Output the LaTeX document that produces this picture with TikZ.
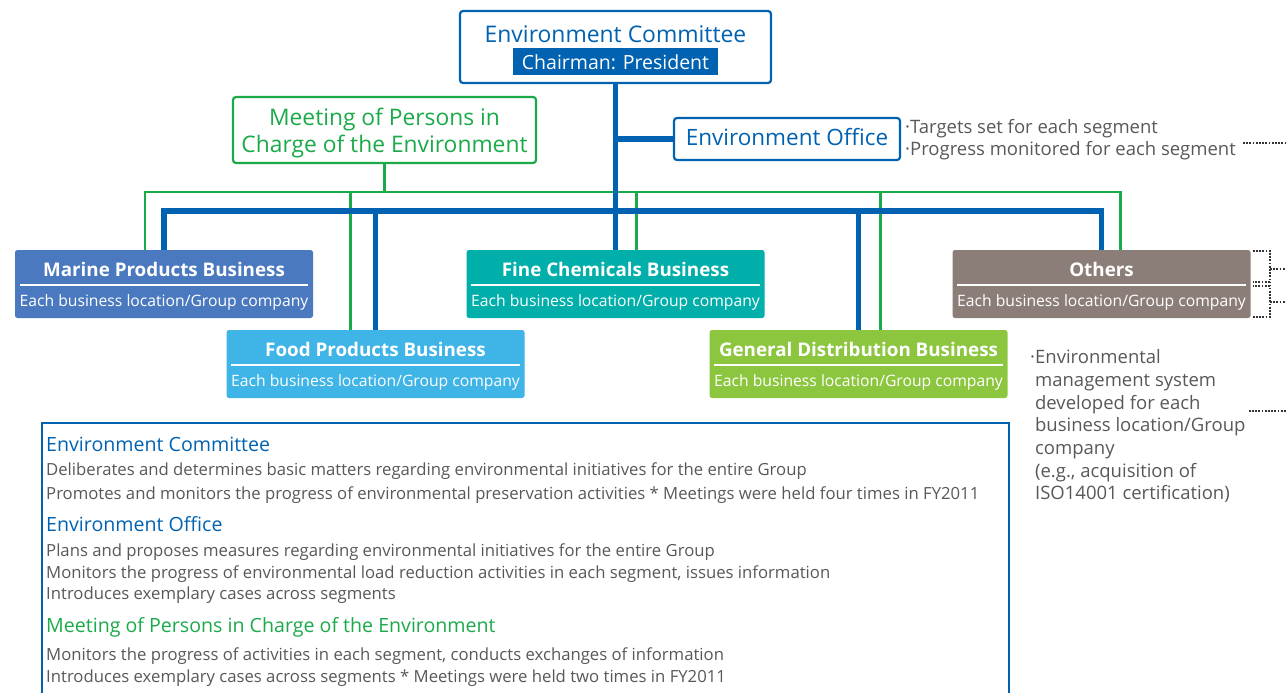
\documentclass[tikz,border=0pt]{standalone}
\usepackage{fontspec}
\setmainfont{Open Sans}
\usetikzlibrary{positioning}
\definecolor{envblue}{HTML}{0062B1}
\definecolor{envgreen}{HTML}{1BAA4A}
\definecolor{txtgray}{HTML}{595757}
\definecolor{marinecol}{HTML}{4A79BF}
\definecolor{foodcol}{HTML}{3FB4E6}
\definecolor{finecol}{HTML}{00AEAA}
\definecolor{gencol}{HTML}{8CC63F}
\definecolor{othercol}{HTML}{8B7E78}
\definecolor{dotcol}{HTML}{333333}

\begin{document}
\begin{tikzpicture}[x=1pt,y=-1pt,
    line/.style={text height=1.02em, text depth=0pt, inner sep=0pt},
    headbox/.style={draw=#1, line width=2.2pt, rounded corners=3pt, fill=white, inner sep=0pt},
    bizbox/.style={fill=#1, rounded corners=2.5pt, minimum width=298pt, minimum height=68pt, inner sep=0pt},
    biztitle/.style={line, text=white, font=\fontsize{18.8}{20}\selectfont\bfseries},
    bizsub/.style={line, text=white, font=\fontsize{15.7}{18}\selectfont},
    bizrule/.style={draw=white, line width=1.6pt},
    blueline/.style={draw=envblue, line width=5.5pt},
    greenline/.style={draw=envgreen, line width=2.2pt},
    note/.style={line, text height=1.12em, text=txtgray, font=\fontsize{18.5}{22}\selectfont, anchor=west},
    dotline/.style={draw=dotcol, line width=2pt, dash pattern=on 1.8pt off 1.4pt},
    body/.style={line, text=txtgray, font=\fontsize{16.7}{18}\selectfont, anchor=west},
    heading/.style={line, text height=1.15em, text=#1, font=\fontsize{19.6}{24}\selectfont, anchor=west}]
  \useasboundingbox (0,0) rectangle (1286,693);

  % committee on top
  \node[headbox=envblue, minimum width=311pt, minimum height=72pt] (committee) at (615.5,47) {};
  \node[line, text=envblue, font=\fontsize{22.9}{26}\selectfont] (comtitle) at (615.5,37) {Environment Committee};
  \node[fill=envblue, text=white, minimum width=205pt, minimum height=27pt, inner sep=0pt,
        text height=17pt, text depth=0pt,
        font=\fontsize{19.5}{22}\selectfont] (chair) at (615.5,61.5) {Chairman: President};

  \node[headbox=envgreen, minimum width=303pt, minimum height=66pt, text=envgreen, align=center,
        font=\fontsize{22.8}{27}\selectfont] (meeting) at (384.5,130) {\rule{0pt}{23pt}Meeting of Persons in\\Charge of the Environment};
  \node[headbox=envblue, line, text height=1.2em, minimum width=226pt, minimum height=42pt, text=envblue,
        font=\fontsize{22.5}{26}\selectfont] (office) at (787,139) {Environment Office};

  \node[note] (offnote1) at (905,128) {·Targets set for each segment};
  \node[note] (offnote2) at (905,150) {·Progress monitored for each segment};

  % business segments
  \foreach \n/\c/\x/\y/\t in {marine/marinecol/164/284/Marine Products Business,
                              food/foodcol/375.5/364/Food Products Business,
                              fine/finecol/615.5/284/Fine Chemicals Business,
                              general/gencol/858.5/364/General Distribution Business,
                              others/othercol/1101.5/284/Others} {
    \node[bizbox=\c] (\n) at (\x,\y) {};
    \node[biztitle] (\n-title) at ([yshift=13pt]\n.center) {\t};
    \draw[bizrule] ([xshift=5pt,yshift=-1pt]\n.west) -- ([xshift=-5pt,yshift=-1pt]\n.east);
    \node[bizsub] (\n-sub) at ([yshift=-17pt]\n.center) {Each business location/Group company};
  }

  % green tree
  \coordinate (gbus) at (384.5,192);
  \draw[greenline] (meeting.south) -- (gbus);
  \draw[greenline] ([xshift=-19pt]marine.north) |- (gbus) -| ([xshift=19pt]others.north);
  \draw[greenline] ([xshift=-25pt]food.north) -- ([xshift=-25pt]food.north |- gbus);
  \draw[greenline] ([xshift=21pt]fine.north) -- ([xshift=21pt]fine.north |- gbus);
  \draw[greenline] ([xshift=22pt]general.north) -- ([xshift=22pt]general.north |- gbus);

  % blue tree
  \coordinate (bbus) at (615.5,211);
  \draw[blueline] (committee.south) -- (fine.north);
  \draw[blueline] (office.west) -- (office.west -| committee.south);
  \draw[blueline] (marine.north) |- (bbus) -| (others.north);
  \draw[blueline] (food.north) -- (food.north |- bbus);
  \draw[blueline] (general.north) -- (general.north |- bbus);

  % notes on the right
  \foreach \t [count=\i from 0] in {{·Environmental}, {\phantom{·}management system},
      {\phantom{·}developed for each}, {\phantom{·}business location/Group},
      {\phantom{·}company}, {\phantom{·}(e.g., acquisition of}, {\phantom{·}ISO14001 certification)}}
    \node[note] (sysnote\i) at (1030,358+22.7*\i) {\t};

  \coordinate (rimA) at (1286,143);
  \coordinate (rimB) at (1286,269);
  \coordinate (rimC) at (1286,302);
  \coordinate (rimD) at (1286,411);
  \draw[dotline] ([xshift=7pt]offnote2.east |- rimA) -- (rimA);
  \draw[dotline] ([xshift=2pt,yshift=-1pt]others.north east) -- ++(17,0) -- ++(0,31) -- ++(-17,0);
  \draw[dotline] ([xshift=2pt,yshift=1pt]others.south east) -- ++(17,0) -- ++(0,-31) -- ++(-17,0);
  \draw[dotline] (rimB -| 1270,0) -- (rimB);
  \draw[dotline] (rimC -| 1270,0) -- (rimC);
  \draw[dotline] ([xshift=3pt]sysnote3.east |- rimD) -- (rimD);

  % explanation panel
  \draw[envblue, line width=1.3pt] (42,700) |- (1009,423) -- (1009,700);
  \node[heading=envblue] (expcom) at (46,446) {Environment Committee};
  \node[body] (expcom1) at (46,470) {Deliberates and determines basic matters regarding environmental initiatives for the entire Group};
  \node[body] (expcom2) at (46,494) {Promotes and monitors the progress of environmental preservation activities * Meetings were held four times in FY2011};
  \node[heading=envblue] (expoff) at (46,526) {Environment Office};
  \node[body] (expoff1) at (46,551) {Plans and proposes measures regarding environmental initiatives for the entire Group};
  \node[body] (expoff2) at (46,573) {Monitors the progress of environmental load reduction activities in each segment, issues information};
  \node[body] (expoff3) at (46,594) {Introduces exemplary cases across segments};
  \node[heading=envgreen] (expmeet) at (46,627) {Meeting of Persons in Charge of the Environment};
  \node[body] (expmeet1) at (46,655) {Monitors the progress of activities in each segment, conducts exchanges of information};
  \node[body] (expmeet2) at (46,677) {Introduces exemplary cases across segments * Meetings were held two times in FY2011};
\end{tikzpicture}
\end{document}
